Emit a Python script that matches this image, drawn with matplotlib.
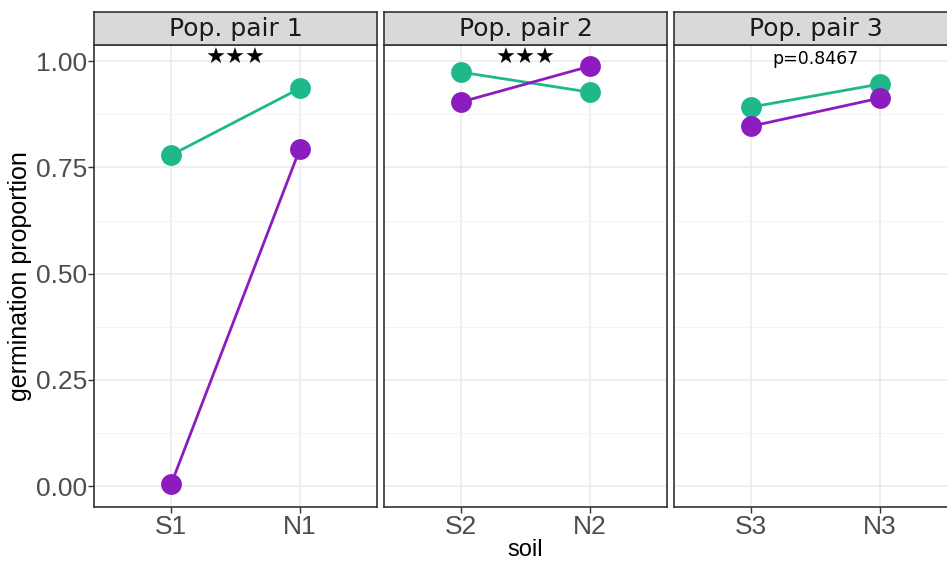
import numpy as np
import matplotlib.pyplot as plt

# germination proportion per population pair and soil
pairs = ['Pop. pair 1', 'Pop. pair 2', 'Pop. pair 3']
soils = [['S1', 'N1'], ['S2', 'N2'], ['S3', 'N3']]
green_vals = [[0.779, 0.936], [0.974, 0.927], [0.892, 0.946]]
purple_vals = [[0.005, 0.793], [0.904, 0.988], [0.847, 0.913]]
signif = ['\u2605\u2605\u2605', '\u2605\u2605\u2605', 'p=0.8467']

GREEN = '#1EB88A'
PURPLE = '#8C1CC0'
W, H = 947, 562

plt.rcParams['font.family'] = 'Liberation Sans'
fig = plt.figure(figsize=(W / 100, H / 100), dpi=100)

panel_left = [94, 384, 674]
panel_w = 283
top, bottom = 45, 507
strip_top = 12

ylo, yhi = -0.049, 1.038

for i in range(3):
    x0 = panel_left[i] / W
    ax = fig.add_axes([x0, 1 - bottom / H, panel_w / W, (bottom - top) / H])
    ax.set_xlim(0.4, 2.6)
    ax.set_ylim(ylo, yhi)
    ax.set_facecolor('white')
    ax.set_yticks([0, 0.25, 0.5, 0.75, 1.0])
    ax.set_yticks([0.125, 0.375, 0.625, 0.875], minor=True)
    ax.set_xticks([1, 2])
    ax.set_xticklabels(soils[i])
    ax.grid(which='major', color='#EBEBEB', lw=1.1)
    ax.grid(which='minor', axis='y', color='#F3F3F3', lw=0.6)
    ax.set_axisbelow(True)
    for s in ax.spines.values():
        s.set_color('#333333')
        s.set_linewidth(1.2)
    ax.tick_params(axis='x', colors='#333333', labelcolor='#4D4D4D',
                   labelsize=19, length=4, width=1, pad=2)
    ax.tick_params(axis='y', which='minor', length=0)
    if i == 0:
        ax.set_yticklabels(['0.00', '0.25', '0.50', '0.75', '1.00'])
        ax.tick_params(axis='y', colors='#333333', labelcolor='#4D4D4D',
                       labelsize=19, length=4, width=1, pad=1)
        ax.set_ylabel('germination proportion', fontsize=18, labelpad=3)
    else:
        ax.tick_params(axis='y', which='both', length=0, labelleft=False)
    if i == 1:
        ax.set_xlabel('soil', fontsize=17, labelpad=0)

    x = np.array([1, 2])
    ax.plot(x, green_vals[i], color=GREEN, lw=2, marker='o', ms=15,
            markeredgewidth=0, zorder=3)
    ax.plot(x, purple_vals[i], color=PURPLE, lw=2, marker='o', ms=15,
            markeredgewidth=0, zorder=3)

    if signif[i].startswith('p'):
        ax.text(1.5, 1.005, signif[i], ha='center', va='center',
                fontsize=12.5, family='DejaVu Sans')
    else:
        ax.text(1.5, 1.008, signif[i], ha='center', va='center',
                fontsize=16, family='DejaVu Sans')

    # facet strip
    sax = fig.add_axes([x0, 1 - top / H, panel_w / W, (top - strip_top) / H])
    sax.set_xticks([])
    sax.set_yticks([])
    sax.set_facecolor('#D9D9D9')
    for s in sax.spines.values():
        s.set_color('#333333')
        s.set_linewidth(1.2)
    sax.text(0.5, 0.47, pairs[i], ha='center', va='center', fontsize=18,
             color='#1A1A1A', transform=sax.transAxes, family='DejaVu Sans')

fig.savefig('out.png', dpi=100)
